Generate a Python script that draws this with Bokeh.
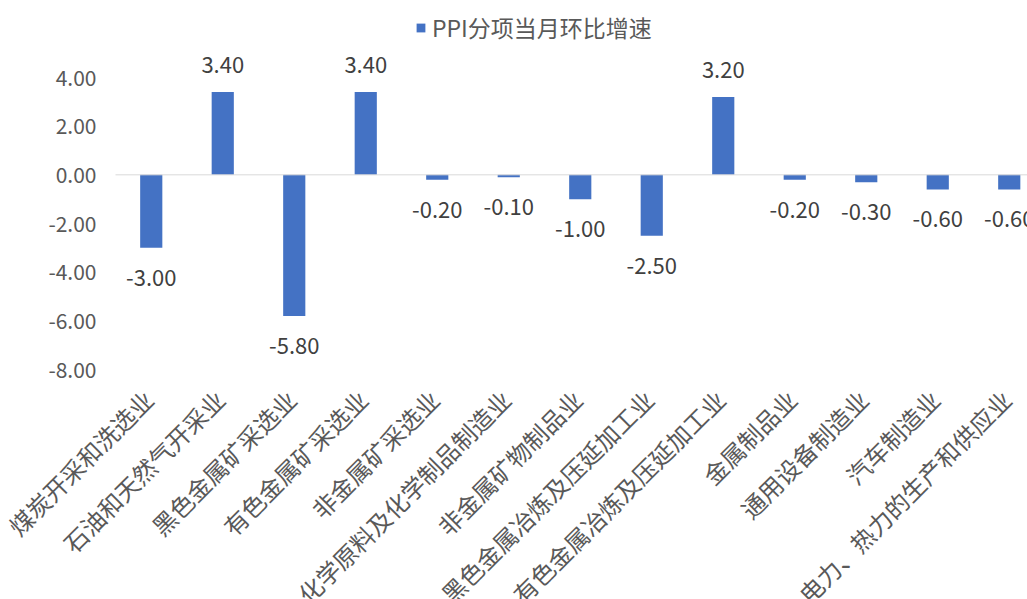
from math import pi
from bokeh.plotting import figure
from bokeh.models import (ColumnDataSource, Span, Legend, LegendItem, Range1d)
from bokeh.core.properties import value
from bokeh.embed import file_html
from bokeh.resources import INLINE

categories = ["煤炭开采和洗选业", "石油和天然气开采业", "黑色金属矿采选业", "有色金属矿采选业",
              "非金属矿采选业", "化学原料及化学制品制造业", "非金属矿物制品业",
              "黑色金属冶炼及压延加工业", "有色金属冶炼及压延加工业", "金属制品业",
              "通用设备制造业", "汽车制造业", "电力、热力的生产和供应业"]
values = [-3.0, 3.4, -5.8, 3.4, -0.2, -0.1, -1.0, -2.5, 3.2, -0.2, -0.3, -0.6, -0.6]
y_ticks = [4, 2, 0, -2, -4, -6, -8]
y_axis_min = -8
series_name = "PPI分项当月环比增速"

FONT = "Noto Sans CJK SC"
GRAY = "#595959"
BLUE = "#4472C4"

xs = list(range(len(categories)))
labels = ["%.2f" % v for v in values]
pos = [v >= 0 for v in values]
src_pos = ColumnDataSource(dict(x=[x for x, p in zip(xs, pos) if p],
                                y=[v for v, p in zip(values, pos) if p],
                                t=[l for l, p in zip(labels, pos) if p]))
src_neg = ColumnDataSource(dict(x=[x for x, p in zip(xs, pos) if not p],
                                y=[v for v, p in zip(values, pos) if not p],
                                t=[l for l, p in zip(labels, pos) if not p]))
src = ColumnDataSource(dict(x=xs, top=values))
src_cat = ColumnDataSource(dict(x=xs, y=[y_axis_min] * len(xs), t=categories))
src_ytk = ColumnDataSource(dict(x=[-0.5] * len(y_ticks), y=y_ticks,
                                t=["%.2f" % v for v in y_ticks]))

# frame fills the whole canvas; scales keep the chart area at x 115..1027, y 77..369 px
px_per_unit_y = 292 / 12.0
px_per_cat = 71.5
y_top = 4 + 77 / px_per_unit_y
y_bot = -8 - (599 - 369) / px_per_unit_y
x_start = -0.5 - 115 / px_per_cat
x_end = -0.5 + (1027 - 115) / px_per_cat

p = figure(width=1027, height=599, output_backend="svg", toolbar_location=None,
           x_range=Range1d(x_start, x_end), y_range=Range1d(y_bot, y_top),
           min_border_left=0, min_border_right=0, min_border_top=0,
           min_border_bottom=0, outline_line_color=None)
p.xgrid.visible = False
p.ygrid.visible = False
p.xaxis.visible = False
p.yaxis.visible = False

bars = p.vbar(x="x", top="top", bottom=0, width=0.31, source=src,
              fill_color=BLUE, line_color=None)

# zero line across the chart area
p.segment(x0=[-0.5], y0=[0], x1=[x_end], y1=[0], line_color="#D9D9D9", line_width=1)

p.text(x="x", y="y", text="t", source=src_pos, text_align="center",
       text_baseline="middle", y_offset=-27, text_font=value(FONT),
       text_font_size="22px", text_color="#404040")
p.text(x="x", y="y", text="t", source=src_neg, text_align="center",
       text_baseline="middle", y_offset=30, text_font=value(FONT),
       text_font_size="22px", text_color="#404040")

# y tick labels
p.text(x="x", y="y", text="t", source=src_ytk, text_align="right",
       text_baseline="middle", x_offset=-19, text_font=value(FONT),
       text_font_size="21px", text_color=GRAY)

# category labels, rotated 45 degrees, ending at each bar
p.text(x="x", y="y", text="t", source=src_cat, angle=pi / 4, text_align="right",
       text_baseline="middle", x_offset=-3, y_offset=25, text_font=value(FONT),
       text_font_size="24px", text_color=GRAY)

legend = Legend(items=[LegendItem(label=series_name, renderers=[bars])],
                location=(415, 555), orientation="horizontal",
                label_text_font=FONT, label_text_font_size="23px",
                label_text_color=GRAY, glyph_width=11, glyph_height=11,
                border_line_color=None, background_fill_alpha=0,
                padding=0, margin=0, label_standoff=6)
p.add_layout(legend, "center")

open("out.html", "w").write(file_html(p, INLINE))
